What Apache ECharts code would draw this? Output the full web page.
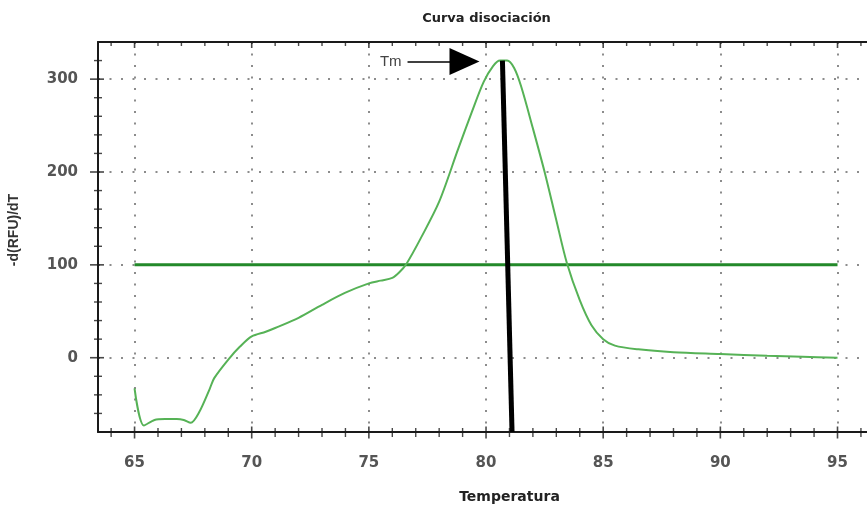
<!DOCTYPE html>
<html><head><meta charset="utf-8">
<script src="https://cdn.jsdelivr.net/npm/echarts@6/dist/echarts.min.js"></script>
<style>html,body{margin:0;padding:0;background:#fff}#c{width:867px;height:511px}</style>
</head><body><div id="c"></div>
<script>
// ---- data ----
const temperature = [65.0, 65.4, 65.85, 66.3, 66.8, 67.1, 67.4, 67.75, 68.2, 68.4, 69.0, 69.5, 70.0, 70.6, 71.0, 72.0, 73.0, 74.0, 75.0, 75.5, 76.0, 76.3, 76.6, 77.2, 78.0, 78.8, 79.4, 79.9, 80.3, 80.6, 80.9, 81.2, 81.5, 82.0, 82.5, 83.0, 83.45, 84.0, 84.5, 85.0, 85.5, 86.5, 88.0, 90.0, 92.0, 93.5, 95.0];
const dRFUdT = [-33, -73, -67, -66, -66, -67, -70, -59, -34, -22, -2, 12, 23, 28, 32, 43, 57, 70, 80, 83, 86, 92, 101, 128, 168, 224, 265, 297, 314, 320, 320, 312, 292, 247, 200, 148, 102, 62, 35, 20, 13, 9, 6, 4, 2, 1, 0];
const xRange = [63.44, 96.6];
const yRange = [-80, 340];
const xMajorTicks = [65, 70, 75, 80, 85, 90, 95];
const xMinorTicks = [64, 66, 67, 68, 69, 71, 72, 73, 74, 76, 77, 78, 79, 81, 82, 83, 84, 86, 87, 88, 89, 91, 92, 93, 94, 96];
const yMajorTicks = [0, 100, 200, 300];
const yMinorTicks = [-60, -40, -20, 20, 40, 60, 80, 120, 140, 160, 180, 220, 240, 260, 280, 320];
const thresholdTemps = [65, 95];
const thresholdValue = 100;
const tmLineTemps = [80.70, 81.11];
const tmLineValues = [320, -80];
const tmArrowTemps = [76.65, 79.08];
const tmArrowValue = 319;
const titleText = 'Curva disociación';
const xName = 'Temperatura';
const yName = '-d(RFU)/dT';

const FRAME = '#1a1a1a';
const labelStyle = {fontFamily: 'DejaVu Sans', fontSize: 15, fontWeight: 'bold', color: '#555'};
const gridDots = {show: true, showMinLine: false, showMaxLine: false,
  lineStyle: {color: '#8c8c8c', type: [2, 9.5], width: 2}};

function tickSeries(points, size, offset) {
  return {type: 'scatter', data: points, symbol: 'rect', symbolSize: size, symbolOffset: offset || [0, 0],
    itemStyle: {color: FRAME}, clip: false, silent: true, z: 6, animation: false};
}
function isMultiple(v, step) { return Math.abs(v - Math.round(v / step) * step) < 1e-6; }

const chart = echarts.init(document.getElementById('c'), null, {renderer: 'canvas'});
chart.setOption({
  animation: false,
  backgroundColor: '#fff',
  grid: {left: 98, top: 42, width: 777, height: 390, containLabel: false, outerBoundsMode: 'none'},
  xAxis: [{
    type: 'value', position: 'bottom', min: xRange[0], max: xRange[1],
    axisLine: {show: true, onZero: false, lineStyle: {color: FRAME, width: 2}},
    axisTick: {show: false},
    axisLabel: Object.assign({show: true, margin: 24, showMinLabel: false, showMaxLabel: false,
      formatter: v => isMultiple(v, 5) ? String(Math.round(v)) : ''}, labelStyle),
    splitLine: gridDots,
    name: xName, nameLocation: 'middle', nameGap: 58,
    nameTextStyle: {fontFamily: 'DejaVu Sans', fontSize: 14, fontWeight: 'bold', color: '#222', padding: [0, 0, 0, 46]}
  }, {
    type: 'value', position: 'top', min: xRange[0], max: xRange[1],
    axisLine: {show: true, onZero: false, lineStyle: {color: FRAME, width: 2}},
    axisTick: {show: false}, axisLabel: {show: false}, splitLine: {show: false},
    name: titleText, nameLocation: 'middle', nameGap: 17,
    nameTextStyle: {fontFamily: 'DejaVu Sans', fontSize: 13, fontWeight: 'bold', color: '#222'}
  }],
  yAxis: [{
    type: 'value', position: 'left', min: yRange[0], max: yRange[1],
    axisLine: {show: true, onZero: false, lineStyle: {color: FRAME, width: 2}},
    axisTick: {show: false},
    axisLabel: Object.assign({show: true, margin: 20, showMinLabel: false, showMaxLabel: false,
      formatter: v => isMultiple(v, 100) ? String(Math.round(v)) : ''}, labelStyle),
    splitLine: gridDots,
    name: yName, nameLocation: 'middle', nameGap: 77, nameRotate: 90,
    nameTextStyle: {fontFamily: 'Liberation Sans', fontSize: 14, fontWeight: 'bold', color: '#333', padding: [0, 0, 0, 14]}
  }, {
    type: 'value', position: 'right', min: yRange[0], max: yRange[1],
    axisLine: {show: true, onZero: false, lineStyle: {color: FRAME, width: 2}},
    axisTick: {show: false}, axisLabel: {show: false}, splitLine: {show: false}
  }],
  series: [
    {
      type: 'line', name: 'umbral', data: thresholdTemps.map(t => [t, thresholdValue]),
      showSymbol: false, lineStyle: {color: '#23892a', width: 3}, z: 3, silent: true
    },
    {
      type: 'line', name: 'curva', data: temperature.map((t, i) => [t, dRFUdT[i]]),
      showSymbol: false, smooth: 0.3, lineStyle: {color: '#56b256', width: 2}, z: 3, silent: true
    },
    {
      type: 'line', name: 'Tm', data: tmLineTemps.map((t, i) => [t, tmLineValues[i]]),
      showSymbol: false, lineStyle: {color: '#000', width: 5, cap: 'butt'}, z: 4, silent: true,
      markLine: {
        silent: true, animation: false,
        lineStyle: {color: '#000', width: 1.5, type: 'solid'},
        label: {show: true, position: 'start', distance: 6, formatter: 'Tm',
          fontFamily: 'Liberation Sans', fontSize: 15, color: '#444'},
        data: [[
          {coord: [tmArrowTemps[0], tmArrowValue], symbol: 'none'},
          {coord: [tmArrowTemps[1], tmArrowValue], symbol: 'triangle', symbolSize: [27, 30]}
        ]]
      }
    },
    tickSeries(xMajorTicks.map(v => [v, yRange[0]]), [1.6, 12], [0, 0.5]),
    tickSeries(xMinorTicks.map(v => [v, yRange[0]]), [1.4, 9], [0, 0.5]),
    tickSeries(xMajorTicks.map(v => [v, yRange[1]]), [1.6, 6], [0, 3]),
    tickSeries(xMinorTicks.map(v => [v, yRange[1]]), [1.4, 4], [0, 2]),
    tickSeries(yMajorTicks.map(v => [xRange[0], v]), [14, 1.6], [-1, 0]),
    tickSeries(yMinorTicks.map(v => [xRange[0], v]), [8, 1.4], [0, 0])
  ]
});
</script>
</body></html>
